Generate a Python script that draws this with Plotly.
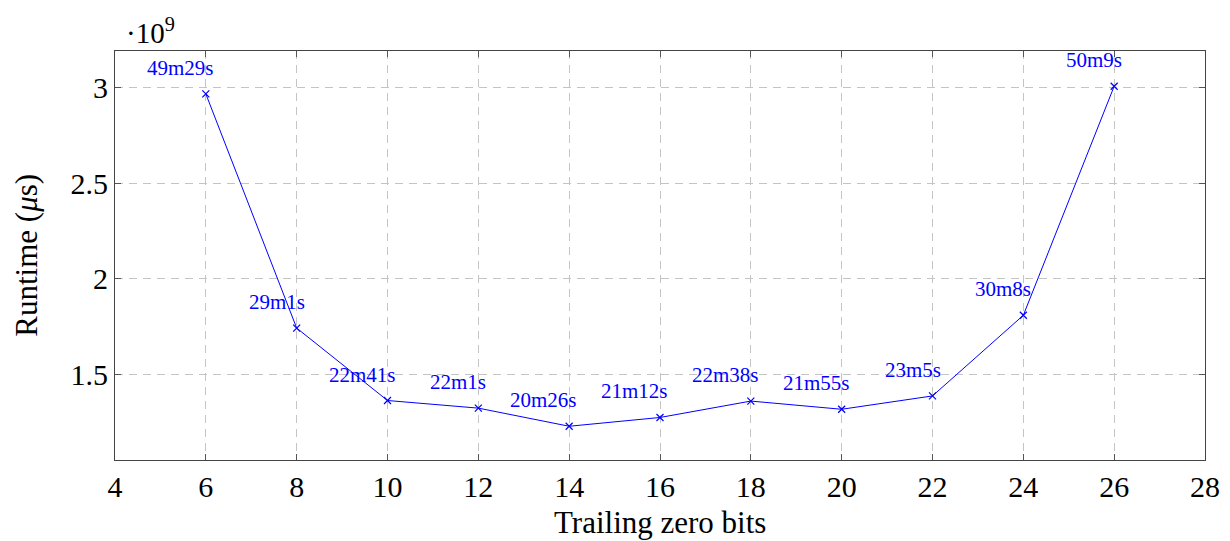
import plotly.graph_objects as go

# Data
trailing_bits = [6, 8, 10, 12, 14, 16, 18, 20, 22, 24, 26]
labels = ["49m29s", "29m1s", "22m41s", "22m1s", "20m26s", "21m12s",
          "22m38s", "21m55s", "23m5s", "30m8s", "50m9s"]
runtime_seconds = [2969, 1741, 1361, 1321, 1226, 1272, 1358, 1315, 1385, 1808, 3009]
runtime_us = [s * 1e6 for s in runtime_seconds]

x_ticks = [4, 6, 8, 10, 12, 14, 16, 18, 20, 22, 24, 26, 28]
y_tickvals = [1.5e9, 2.0e9, 2.5e9, 3.0e9]
y_ticktext = ["1.5", "2", "2.5", "3"]
x_title = "Trailing zero bits"
y_title = "Runtime (<i>μ</i>s)"

FONT = "Liberation Serif, DejaVu Serif, serif"
BLUE = "#0000ff"

fig = go.Figure()
fig.add_trace(go.Scatter(
    x=trailing_bits, y=runtime_us, mode="lines+markers",
    line=dict(color=BLUE, width=1),
    marker=dict(symbol="x-thin", size=7, line=dict(color=BLUE, width=1.2), color=BLUE),
    showlegend=False, hoverinfo="skip",
))

for xv, yv, t in zip(trailing_bits, runtime_us, labels):
    fig.add_annotation(x=xv, y=yv, text=t, showarrow=False,
                       xanchor="right", yanchor="bottom", xshift=10, yshift=12,
                       font=dict(family=FONT, size=21, color=BLUE))

fig.add_annotation(xref="paper", yref="paper", x=0.008, y=1.05,
                   xanchor="left", yanchor="middle", showarrow=False,
                   text="·10<sup>9</sup>", font=dict(family=FONT, size=29, color="black"))

# Axis titles as annotations (fixed positions)
fig.add_annotation(xref="paper", yref="paper", x=0.5, y=-0.153,
                   xanchor="center", yanchor="middle", showarrow=False,
                   text=x_title, font=dict(family=FONT, size=31, color="black"))
fig.add_annotation(xref="paper", yref="paper", x=-0.0815, y=0.5,
                   xanchor="center", yanchor="middle", showarrow=False, textangle=-90,
                   text=y_title, font=dict(family=FONT, size=31, color="black"))

axis_common = dict(
    showline=True, linecolor="#444", linewidth=1.2, mirror="allticks",
    ticks="inside", ticklen=6, tickcolor="#555", tickwidth=1,
    showgrid=True, gridcolor="#c4c4c4", gridwidth=1, griddash="8px,6px",
    zeroline=False, automargin=False,
    tickfont=dict(family=FONT, size=30, color="black"),
)

fig.update_xaxes(range=[4, 28], tickvals=x_ticks, **axis_common)
fig.update_yaxes(range=[1.049e9, 3.194e9], tickvals=y_tickvals, ticktext=y_ticktext,
                 **axis_common)

fig.update_layout(
    width=1230, height=541,
    margin=dict(l=115, r=25, t=51, b=81),
    plot_bgcolor="white", paper_bgcolor="white",
    font=dict(family=FONT),
)

fig.write_html("out.html", config={"displayModeBar": False},
               post_script="document.body.style.margin='0';")
